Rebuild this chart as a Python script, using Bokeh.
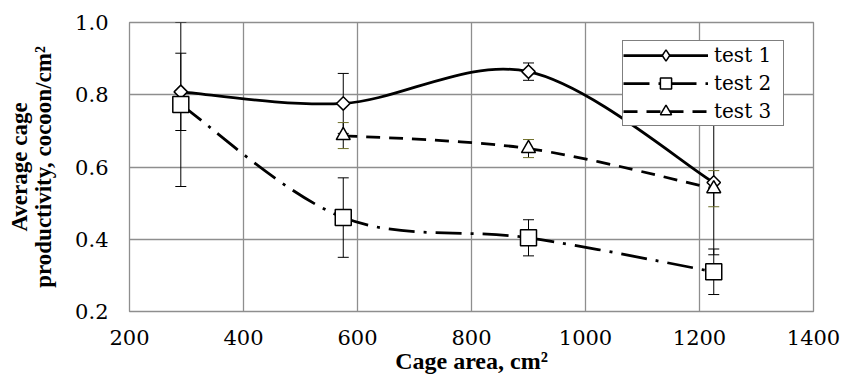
import numpy as np
from bokeh.plotting import figure
from bokeh.models import (ColumnDataSource, Whisker, TeeHead, Legend, LegendItem,
                          NumeralTickFormatter, FixedTicker, Range1d)
from bokeh.embed import file_html
from bokeh.resources import INLINE

# ---------------- data ----------------
areas = [290, 575, 900, 1225]
areas3 = [575, 900, 1225]

test1 = [0.808, 0.776, 0.864, 0.557]
test1_err = [0.107, 0.083, 0.024, 0.20]

test2 = [0.773, 0.460, 0.404, 0.310]
test2_err = [0.227, 0.110, 0.050, 0.063]

test3 = [0.687, 0.651, 0.540]
test3_err = [0.036, 0.025, 0.050]

x_ticks = [200, 400, 600, 800, 1000, 1200, 1400]
y_ticks = [0.2, 0.4, 0.6, 0.8, 1.0]

series_names = ["test 1", "test 2", "test 3"]
x_title = "Cage area, cm²"
y_title = "Average cage\nproductivity, cocoon/cm²"

FONT = "'Liberation Serif', 'Times New Roman', serif"   # bold titles
FONT_REG = "DejaVu Serif"                                # regular-weight texts


def smooth_segments(xs, ys):
    """Excel-style smoothed line: Catmull-Rom spline as cubic Bezier segments."""
    P = list(zip(xs, ys))
    n = len(P)
    d = dict(x0=[], y0=[], x1=[], y1=[], cx0=[], cy0=[], cx1=[], cy1=[])
    for i in range(n - 1):
        p0 = P[i - 1] if i > 0 else P[i]
        p1 = P[i]
        p2 = P[i + 1]
        p3 = P[i + 2] if i + 2 < n else P[i + 1]
        d["x0"].append(p1[0]); d["y0"].append(p1[1])
        d["x1"].append(p2[0]); d["y1"].append(p2[1])
        d["cx0"].append(p1[0] + (p2[0] - p0[0]) / 6.0)
        d["cy0"].append(p1[1] + (p2[1] - p0[1]) / 6.0)
        d["cx1"].append(p2[0] - (p3[0] - p1[0]) / 6.0)
        d["cy1"].append(p2[1] - (p3[1] - p1[1]) / 6.0)
    return ColumnDataSource(d)


p = figure(width=842, height=380,
           x_range=Range1d(200, 1400), y_range=Range1d(0.2, 1.0),
           output_backend="svg", toolbar_location=None,
           min_border_left=129, min_border_right=29,
           min_border_top=22, min_border_bottom=69)

p.background_fill_color = "white"
p.border_fill_color = "white"
p.outline_line_color = "#8e8e8e"
p.outline_line_width = 1.3

# axes
for ax in (p.xaxis, p.yaxis):
    ax.axis_line_color = None
    ax.major_tick_line_color = None
    ax.minor_tick_line_color = None
    ax.major_tick_in = 0
    ax.major_tick_out = 0
    ax.major_label_text_font = FONT_REG
    ax.major_label_text_font_style = "normal"
    ax.major_label_text_font_size = "21px"
    ax.major_label_text_color = "black"
    ax.axis_label_text_font = FONT
    ax.axis_label_text_font_style = "bold"
    ax.axis_label_text_color = "black"

p.xaxis.ticker = FixedTicker(ticks=x_ticks)
p.yaxis.ticker = FixedTicker(ticks=y_ticks)
p.yaxis.formatter = NumeralTickFormatter(format="0.0")
p.xaxis.major_label_standoff = 18
p.yaxis.major_label_standoff = 21

p.xaxis.axis_label = x_title
p.xaxis.axis_label_text_font_size = "24px"
p.xaxis.axis_label_standoff = 0
p.yaxis.axis_label = y_title
p.yaxis.axis_label_text_font_size = "23px"
p.yaxis.axis_label_text_line_height = 0.95
p.yaxis.axis_label_standoff = 16

p.xgrid.grid_line_color = "#8e8e8e"
p.ygrid.grid_line_color = "#8e8e8e"
p.xgrid.grid_line_width = 1.3
p.ygrid.grid_line_width = 1.3

# ---------------- error bars ----------------
def add_errors(xs, ys, es, cap_color):
    src = ColumnDataSource(dict(
        x=xs,
        upper=[y + e for y, e in zip(ys, es)],
        lower=[y - e for y, e in zip(ys, es)],
    ))
    w = Whisker(base="x", upper="upper", lower="lower", source=src,
                line_color="black", line_width=1, level="underlay",
                upper_head=TeeHead(size=11, line_color=cap_color, line_width=1),
                lower_head=TeeHead(size=11, line_color=cap_color, line_width=1))
    p.add_layout(w)

add_errors(areas, test1, test1_err, "black")
add_errors(areas, test2, test2_err, "black")
add_errors(areas3, test3, test3_err, "#6f6f2a")

# ---------------- lines (smoothed) ----------------
LW = 2.75
styles = [
    dict(line_color="black", line_width=LW, line_dash="solid"),
    dict(line_color="black", line_width=LW, line_dash="26 9 3 9"),
    dict(line_color="black", line_width=LW, line_dash="14 9"),
]
BZ = dict(x0="x0", y0="y0", x1="x1", y1="y1", cx0="cx0", cy0="cy0",
          cx1="cx1", cy1="cy1")

l1 = p.bezier(source=smooth_segments(areas, test1), **BZ, **styles[0])
l2 = p.bezier(source=smooth_segments(areas, test2), **BZ, **styles[1])
l3 = p.bezier(source=smooth_segments(areas3, test3), **BZ, **styles[2])

# ---------------- markers ----------------
# upright diamond (shown in the legend), covered by a rotated square of equal width/height
m1 = p.scatter(areas, test1, marker="diamond", size=12,
               fill_color="white", line_color="black", line_width=1.5)
p.scatter(areas, test1, marker="square", angle=np.pi / 4, size=9.5,
          fill_color="white", line_color="black", line_width=1.5)
m2 = p.scatter(areas, test2, marker="square", size=16,
               fill_color="white", line_color="black", line_width=1.5)
m3 = p.scatter(areas3, test3, marker="triangle", size=14,
               fill_color="white", line_color="black", line_width=1.5)

legend = Legend(items=[
    LegendItem(label=series_names[0], renderers=[l1, m1]),
    LegendItem(label=series_names[1], renderers=[l2, m2]),
    LegendItem(label=series_names[2], renderers=[l3, m3]),
], location=(493, 185))
legend.padding = 0
legend.spacing = 0
legend.margin = 0
legend.glyph_width = 85
legend.glyph_height = 28
legend.label_height = 28
legend.label_width = 69
legend.label_standoff = 6
legend.label_text_font = FONT_REG
legend.label_text_font_style = "normal"
legend.label_text_font_size = "20px"
legend.label_text_color = "black"
legend.border_line_color = "black"
legend.border_line_width = 1.5
legend.background_fill_color = "white"
legend.background_fill_alpha = 1.0
p.add_layout(legend, "center")

open("out.html", "w").write(file_html(p, INLINE))
